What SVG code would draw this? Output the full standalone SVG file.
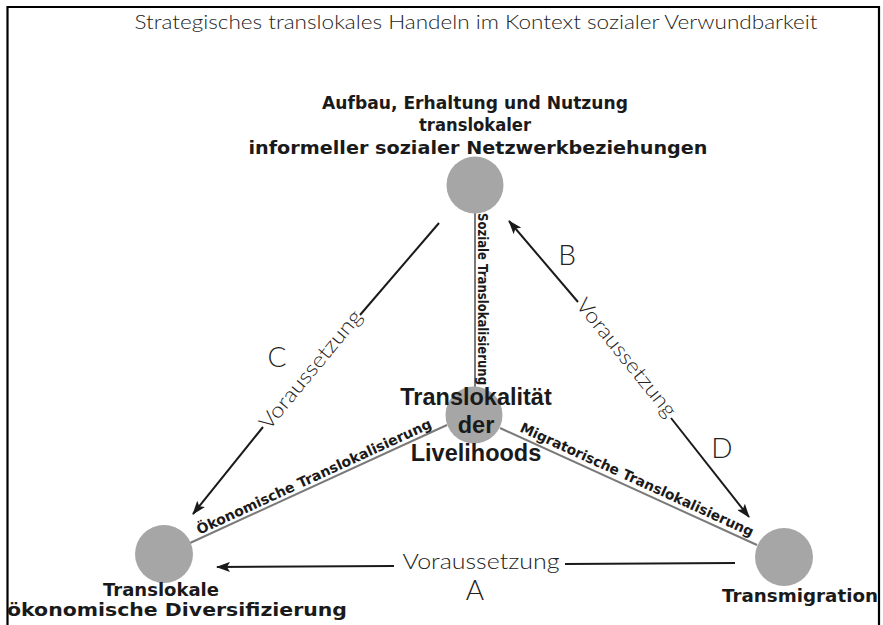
<svg xmlns="http://www.w3.org/2000/svg" width="883" height="625" viewBox="0 0 883 625">
<defs>
<style>
.frame{fill:none;stroke:#000;stroke-width:2.2}
.node{fill:#a6a6a6}
.link{stroke:#7a7a7a;stroke-width:2;fill:none}
.arrow{stroke:#1a1a1a;stroke-width:2;fill:none}
.thin{font-family:Lato,"Open Sans","Liberation Sans",sans-serif;font-weight:300;fill:#222}
.bold{font-family:"DejaVu Sans","Liberation Sans",sans-serif;font-weight:bold;fill:#1a1a1a}
.cbold{font-family:"Liberation Sans",Arial,sans-serif;font-weight:bold;fill:#1a1a1a}
.elabel{font-family:"DejaVu Sans","Liberation Sans",sans-serif;font-weight:bold;font-size:14px;fill:#1a1a1a}
</style>
<marker id="ah" viewBox="0 0 14 10" refX="13" refY="5" markerWidth="14" markerHeight="10" markerUnits="userSpaceOnUse" orient="auto">
<path d="M0,0 L14,5 L0,10 L3,5 z" fill="#1a1a1a"/>
</marker>
</defs>
<rect width="883" height="625" fill="#fff"/>
<path class="frame" d="M7.5,626 V7 H879 V626"/>
<text class="thin" x="476" y="29" font-size="20" text-anchor="middle" textLength="683" lengthAdjust="spacingAndGlyphs">Strategisches translokales Handeln im Kontext sozialer Verwundbarkeit</text>

<g id="connectors">
<line class="link" x1="475" y1="213" x2="475" y2="387"/>
<line class="link" x1="447" y1="425" x2="190" y2="543"/>
<line class="link" x1="500" y1="428" x2="757" y2="545"/>
<!-- C -->
<line class="arrow" x1="439" y1="223" x2="360" y2="315"/>
<line class="arrow" x1="263" y1="427" x2="193" y2="514" marker-end="url(#ah)"/>
<!-- B / D -->
<line class="arrow" x1="578" y1="302" x2="509" y2="221" marker-end="url(#ah)"/>
<line class="arrow" x1="671" y1="418" x2="749" y2="517" marker-end="url(#ah)"/>
<!-- A -->
<line class="arrow" x1="735" y1="563" x2="565" y2="564"/>
<line class="arrow" x1="394" y1="566" x2="217" y2="567" marker-end="url(#ah)"/>
<text class="thin" font-size="21" text-anchor="middle" textLength="148" lengthAdjust="spacingAndGlyphs" transform="translate(316,374) rotate(-50.5)">Voraussetzung</text>
<text class="thin" font-size="21" text-anchor="middle" textLength="146" lengthAdjust="spacingAndGlyphs" transform="translate(621,362) rotate(51)">Voraussetzung</text>
<text class="thin" font-size="21" x="481" y="569" text-anchor="middle" textLength="157" lengthAdjust="spacingAndGlyphs">Voraussetzung</text>
<text class="thin" font-size="28" x="277" y="367" text-anchor="middle">C</text>
<text class="thin" font-size="28" x="567" y="265" text-anchor="middle">B</text>
<text class="thin" font-size="28" x="722" y="458" text-anchor="middle">D</text>
<text class="thin" font-size="28" x="475" y="600" text-anchor="middle">A</text>
<text class="elabel" transform="translate(478,299) rotate(90)" text-anchor="middle" textLength="172" lengthAdjust="spacingAndGlyphs">Soziale Translokalisierung</text>
<text class="elabel" transform="translate(316,481) rotate(-24.7)" text-anchor="middle" textLength="257" lengthAdjust="spacingAndGlyphs">Ökonomische Translokalisierung</text>
<text class="elabel" transform="translate(635,484) rotate(24.5)" text-anchor="middle" textLength="255" lengthAdjust="spacingAndGlyphs">Migratorische Translokalisierung</text>
</g>

<g id="node-top">
<circle class="node" cx="475" cy="185" r="28.5"/>
<text class="bold" font-size="18.5" text-anchor="middle"><tspan x="475" y="109" textLength="306" lengthAdjust="spacingAndGlyphs">Aufbau, Erhaltung und Nutzung</tspan><tspan x="475" y="131" textLength="112" lengthAdjust="spacingAndGlyphs">translokaler</tspan><tspan x="478" y="154" textLength="459" lengthAdjust="spacingAndGlyphs">informeller sozialer Netzwerkbeziehungen</tspan></text>
</g>
<g id="node-center">
<circle class="node" cx="474" cy="415" r="28.5"/>
<text class="cbold" font-size="23.5" text-anchor="middle"><tspan x="476" y="405">Translokalität</tspan><tspan x="476" y="433">der</tspan><tspan x="476" y="461">Livelihoods</tspan></text>
</g>
<g id="node-left">
<circle class="node" cx="164" cy="554" r="29"/>
<text class="bold" font-size="18.5" text-anchor="middle"><tspan x="161" y="596" textLength="116" lengthAdjust="spacingAndGlyphs">Translokale</tspan><tspan x="177" y="616" textLength="340" lengthAdjust="spacingAndGlyphs">ökonomische Diversifizierung</tspan></text>
</g>
<g id="node-right">
<circle class="node" cx="784" cy="557" r="29"/>
<text class="bold" font-size="18.5" x="800" y="602" text-anchor="middle" textLength="156" lengthAdjust="spacingAndGlyphs">Transmigration</text>
</g>
</svg>
